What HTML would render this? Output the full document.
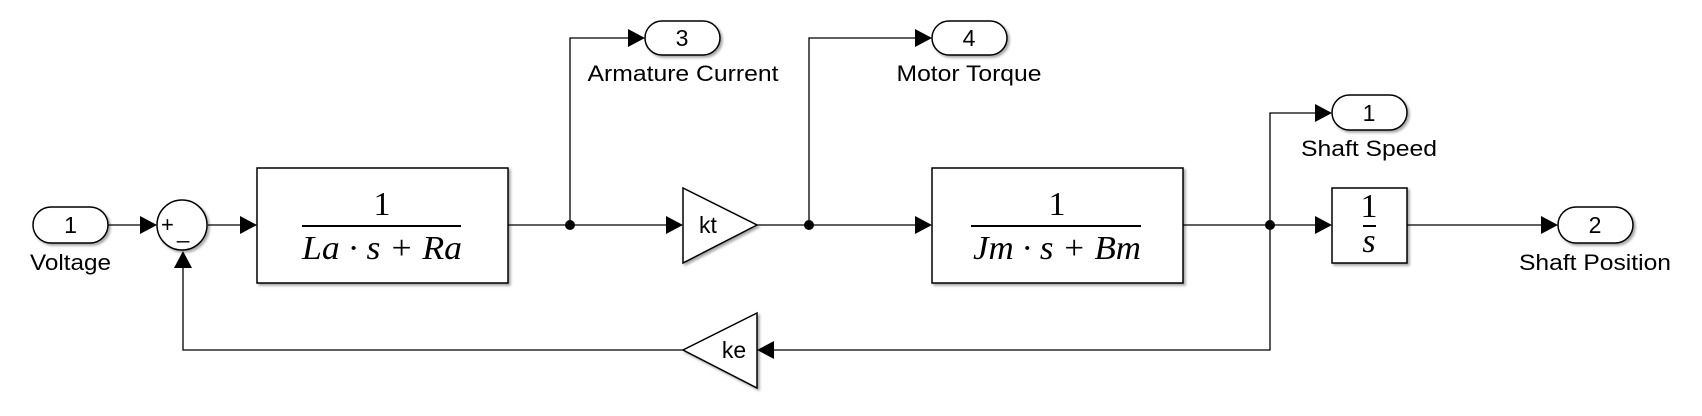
<!DOCTYPE html>
<html><head><meta charset="utf-8"><style>
html,body{margin:0;padding:0;background:#fff;}
svg{display:block;}
.l{font-family:"Liberation Sans",sans-serif;font-size:22px;fill:#000;}
.m{font-family:"Liberation Serif",serif;font-style:italic;font-size:34px;fill:#000;}
.n{font-family:"Liberation Serif",serif;font-size:34px;fill:#000;}
</style></head><body>
<svg width="1702" height="416" viewBox="0 0 1702 416" xmlns="http://www.w3.org/2000/svg">
<defs>
<filter id="sh" x="-10%" y="-10%" width="130%" height="130%"><feDropShadow dx="2" dy="2" stdDeviation="1.2" flood-color="#000" flood-opacity="0.35"/></filter>
</defs>
<g fill="none" stroke="#000" stroke-width="1.3">
<path d="M108 225H141"/>
<path d="M208 225H241"/>
<path d="M508 225H667"/>
<path d="M570 225V38H629"/>
<path d="M757 225H916"/>
<path d="M809 225V38H916"/>
<path d="M1183 225H1316"/>
<path d="M1270 225V113H1316"/>
<path d="M1407 225H1542"/>
<path d="M1270 225V350H773"/>
<path d="M683 350H183V266"/>
</g>
<g fill="#000">
<path d="M157 225l-17 -9v18z"/>
<path d="M257 225l-17 -9v18z"/>
<path d="M683 225l-17 -9v18z"/>
<path d="M645 38l-17 -9v18z"/>
<path d="M932 38l-17 -9v18z"/>
<path d="M932 225l-17 -9v18z"/>
<path d="M1332 113l-17 -9v18z"/>
<path d="M1332 225l-17 -9v18z"/>
<path d="M1558 225l-17 -9v18z"/>
<path d="M757 350l17 -9v18z"/>
<path d="M183 251l-9 17h18z"/>
<circle cx="570" cy="225" r="5"/>
<circle cx="809" cy="225" r="5"/>
<circle cx="1270" cy="225" r="5"/>
</g>
<g fill="#fff" stroke="#000" stroke-width="1.5" filter="url(#sh)">
<rect x="33" y="207" width="75" height="36" rx="18"/>
<circle cx="182" cy="225" r="25"/>
<rect x="257" y="168" width="251" height="115"/>
<rect x="645" y="21" width="75" height="34" rx="17"/>
<path d="M683 188L757 225L683 263Z"/>
<rect x="932" y="21" width="75" height="34" rx="17"/>
<rect x="932" y="168" width="251" height="115"/>
<rect x="1332" y="95" width="75" height="35" rx="17.5"/>
<rect x="1332" y="188" width="75" height="75"/>
<rect x="1558" y="207" width="75" height="36" rx="18"/>
<path d="M757 313L683 350L757 388Z"/>
</g>
<g class="l" text-anchor="middle">
<text x="70.5" y="233" font-size="23">1</text>
<text x="70.5" y="270" textLength="81" lengthAdjust="spacingAndGlyphs">Voltage</text>
<text x="682" y="46" font-size="23">3</text>
<text x="683" y="81" textLength="191" lengthAdjust="spacingAndGlyphs">Armature Current</text>
<text x="969" y="46" font-size="23">4</text>
<text x="969" y="81" textLength="145" lengthAdjust="spacingAndGlyphs">Motor Torque</text>
<text x="1369" y="121" font-size="23">1</text>
<text x="1369" y="156" textLength="136" lengthAdjust="spacingAndGlyphs">Shaft Speed</text>
<text x="1595" y="233" font-size="23">2</text>
<text x="1595" y="270" textLength="152" lengthAdjust="spacingAndGlyphs">Shaft Position</text>
<text x="708" y="233" font-size="23">kt</text>
<text x="734" y="358" font-size="23">ke</text>
</g>
<text class="l" x="161" y="232" font-size="28">+</text>
<text class="l" x="177" y="238" font-size="28">_</text>
<text x="382" y="215" class="n" text-anchor="middle">1</text>
<line x1="302" y1="226" x2="461" y2="226" stroke="#000" stroke-width="2"/>
<text x="382" y="259" class="m" text-anchor="middle" textLength="160" lengthAdjust="spacingAndGlyphs">La · s + Ra</text>
<text x="1057" y="215" class="n" text-anchor="middle">1</text>
<line x1="971" y1="226" x2="1141" y2="226" stroke="#000" stroke-width="2"/>
<text x="1057" y="259" class="m" text-anchor="middle" textLength="168" lengthAdjust="spacingAndGlyphs">Jm · s + Bm</text>
<text x="1369" y="217" class="n" text-anchor="middle" font-size="30">1</text>
<line x1="1363" y1="226" x2="1376" y2="226" stroke="#000" stroke-width="2"/>
<text x="1369" y="252" class="m" text-anchor="middle" font-size="30">s</text>
</svg>
</body></html>
